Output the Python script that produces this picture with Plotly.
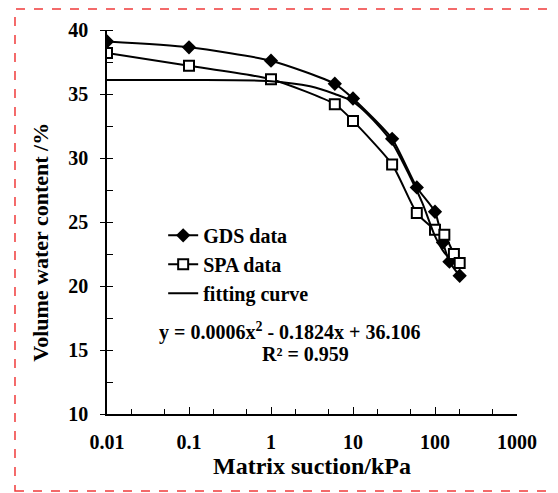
import plotly.graph_objects as go

# Data
gds_suction = [0.01, 0.1, 1, 6, 10, 30, 60, 100, 125, 150, 200]
gds_water = [39.1, 38.65, 37.6, 35.8, 34.65, 31.5, 27.7, 25.8, 23.4, 21.9, 20.8]

spa_suction = [0.01, 0.1, 1, 6, 10, 30, 60, 100, 130, 170, 200]
spa_water = [38.2, 37.2, 36.15, 34.2, 32.9, 29.5, 25.7, 24.4, 24.0, 22.5, 21.8]

fit_suction = [0.01, 0.1, 1, 3, 6, 10, 20, 30, 50, 70, 100, 130, 150]
fit_water = [36.1, 36.1, 36.0, 35.6, 35.0, 34.4, 32.6, 31.2, 28.5, 26.5, 23.9, 22.6, 22.2]

x_tickvals = [0.01, 0.1, 1, 10, 100, 1000]
x_ticktext = ["0.01", "0.1", "1", "10", "100", "1000"]

FONT = "Liberation Serif, Times New Roman, serif"

fig = go.Figure()
fig.add_trace(go.Scatter(
    x=gds_suction, y=gds_water, name="GDS data", mode="lines+markers",
    line=dict(color="black", width=2, shape="spline", smoothing=0.6),
    marker=dict(symbol="diamond", size=11, color="black"),
))
fig.add_trace(go.Scatter(
    x=spa_suction, y=spa_water, name="SPA data", mode="lines+markers",
    line=dict(color="black", width=2, shape="spline", smoothing=0.6),
    marker=dict(symbol="square", size=10, color="white",
                line=dict(color="black", width=2)),
))
fig.add_trace(go.Scatter(
    x=fit_suction, y=fit_water, name="fitting curve", mode="lines",
    line=dict(color="black", width=2, shape="spline", smoothing=0.8),
))

fig.update_xaxes(
    type="log", range=[-2, 3], showline=True, linecolor="black", linewidth=1.5,
    showgrid=False, zeroline=False, mirror=False,
    tickvals=x_tickvals, ticktext=x_ticktext,
    ticks="inside", ticklen=7, tickcolor="black", tickwidth=1,
    ticklabelstandoff=9,
    minor=dict(ticks="inside", ticklen=5, tickcolor="black", tickwidth=1, showgrid=False),
    tickfont=dict(family=FONT, size=20, color="black", weight="bold"),
    title=dict(text="Matrix suction/kPa", font=dict(family=FONT, size=24, color="black", weight="bold"),
               standoff=1),
)
fig.update_yaxes(
    range=[10, 40], showline=True, linecolor="black", linewidth=1.5,
    showgrid=False, zeroline=False,
    dtick=5, ticks="outside", ticklen=5, tickcolor="black", tickwidth=1,
    ticklabelstandoff=8,
    minor=dict(dtick=2.5, ticks="inside", ticklen=6, tickcolor="black", tickwidth=1, showgrid=False),
    tickfont=dict(family=FONT, size=20, color="black", weight="bold"),
)

# Y axis title
fig.add_annotation(
    x=-0.161, y=0.765, xref="paper", yref="paper", showarrow=False,
    xanchor="center", yanchor="top", textangle=-90,
    text="Volume water content /%",
    font=dict(family=FONT, size=22, color="black", weight="bold"),
)

fig.add_annotation(
    x=0.122, y=0.216, xref="paper", yref="paper", showarrow=False,
    xanchor="left", yanchor="middle",
    text="y = 0.0006x<sup>2</sup> - 0.1824x + 36.106",
    font=dict(family=FONT, size=20, color="black", weight="bold"),
)
fig.add_annotation(
    x=0.373, y=0.156, xref="paper", yref="paper", showarrow=False,
    xanchor="left", yanchor="middle",
    text="R² = 0.959",
    font=dict(family=FONT, size=20, color="black", weight="bold"),
)

fig.add_shape(
    type="rect", xref="paper", yref="paper",
    x0=-0.2244, x1=1.0878, y0=-0.2005, y1=1.0547,
    line=dict(color="#f03a3a", width=1.5, dash="dash"),
)

fig.update_layout(
    width=550, height=485,
    margin=dict(l=99, r=41, t=22, b=79),
    paper_bgcolor="white", plot_bgcolor="white",
    showlegend=True,
    legend=dict(
        x=0.137, y=0.516, xanchor="left", yanchor="top",
        bgcolor="rgba(0,0,0,0)", borderwidth=0,
        font=dict(family=FONT, size=20, color="black", weight="bold"),
        itemwidth=30, tracegroupgap=0,
    ),
)

fig.write_html("out.html")
